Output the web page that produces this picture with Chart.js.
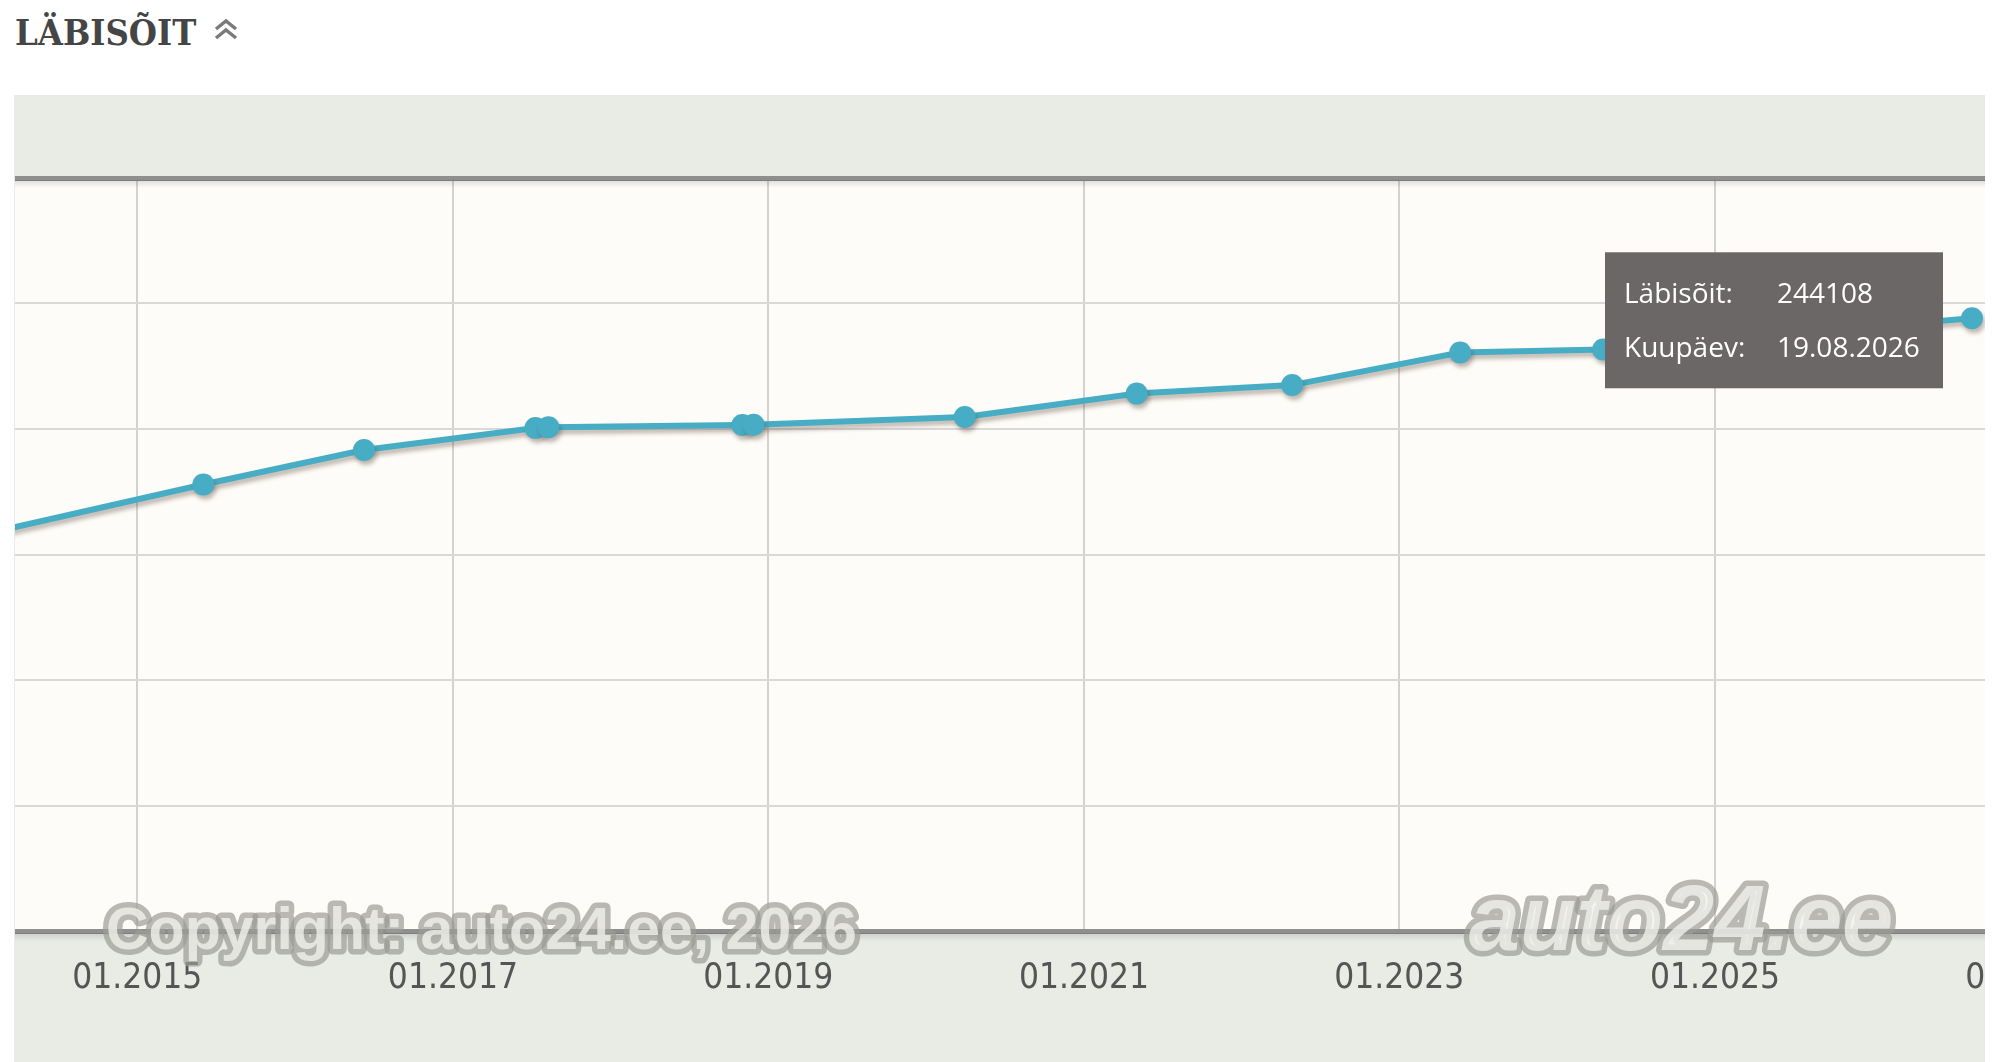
<!DOCTYPE html>
<html>
<head>
<meta charset="utf-8">
<script src="https://cdn.jsdelivr.net/npm/chart.js@4.4.1/dist/chart.umd.min.js"></script>
<style>
  html, body { margin: 0; padding: 0; background: #fff; }
  body { width: 2000px; height: 1062px; position: relative; overflow: hidden; }
  #title { position: absolute; left: 15px; top: 14px; font: bold 36px "DejaVu Serif Condensed", "DejaVu Serif", serif; color: #454545; line-height: 36px; }
  #toggle { position: absolute; left: 212px; top: 17px; }
  #box { position: absolute; left: 14px; top: 95px; width: 1971px; height: 967px; overflow: hidden; }
  #labisoit { display: block; margin-left: -10px; }
</style>
</head>
<body>
<div id="title">LÄBISÕIT</div>
<svg id="toggle" width="28" height="26">
  <polyline points="4,12 14,4 24,12" fill="none" stroke="#7a7a7a" stroke-width="3.5"/>
  <polyline points="4,21 14,13 24,21" fill="none" stroke="#7a7a7a" stroke-width="3.5"/>
</svg>
<div id="box"><canvas id="labisoit" width="2220" height="967"></canvas></div>
<script>
// readings (first one sits left of the visible range)
const readDates = ['2013-06-01', '2015-06-03', '2016-06-09', '2017-07-11', '2017-08-10',
    '2018-11-02', '2018-11-28', '2020-03-31', '2021-05-03', '2022-04-28',
    '2023-05-22', '2024-04-17', '2026-08-19'];
const mileage = [149400, 177900, 191600, 200400, 200700,
    201600, 201700, 204800, 214100, 217500,
    230500, 231700, 244108];
const tickYears = [2015, 2017, 2019, 2021, 2023, 2025, 2027];
const yTicks = [0, 50000, 100000, 150000, 200000, 250000, 300000];
const xMin = Date.UTC(2014, 2, 24);
const xMax = Date.UTC(2028, 1, 28);

const points = readDates.map((d, i) => ({ x: Date.parse(d), y: mileage[i] }));

function pad(n) { return (n < 10 ? '0' : '') + n; }
function fmtDate(t) {
    const d = new Date(t);
    return pad(d.getUTCDate()) + '.' + pad(d.getUTCMonth() + 1) + '.' + d.getUTCFullYear();
}

const backdrop = {
    id: 'backdrop',
    beforeDraw(chart) {
        const { ctx, chartArea: a, width, height } = chart;
        ctx.save();
        ctx.fillStyle = '#e9ebe5';
        ctx.fillRect(0, 0, width, height);
        ctx.fillStyle = '#fdfcf8';
        ctx.fillRect(a.left, a.top, a.right - a.left, a.bottom - a.top);
        ctx.restore();
    },
    beforeDatasetsDraw(chart) {
        const { ctx, chartArea: a } = chart;
        ctx.save();
        [a.top, a.bottom].forEach(y => {
            const g = ctx.createLinearGradient(0, y + 2, 0, y + 10);
            g.addColorStop(0, 'rgba(0,0,0,0.13)');
            g.addColorStop(1, 'rgba(0,0,0,0)');
            ctx.fillStyle = g;
            ctx.fillRect(a.left, y + 2, a.right - a.left, 8);
        });
        ctx.restore();
    }
};

const lineShadow = {
    id: 'lineShadow',
    beforeDatasetDraw(chart) {
        const c = chart.ctx;
        c.save();
        c.shadowColor = 'rgba(80,55,40,0.35)';
        c.shadowOffsetX = 2;
        c.shadowOffsetY = 4;
        c.shadowBlur = 4;
    },
    afterDatasetDraw(chart) {
        chart.ctx.restore();
    }
};

const watermark = {
    id: 'watermark',
    afterDatasetsDraw(chart) {
        const { ctx, chartArea: a } = chart;
        const marks = [
            { text: 'Copyright: auto24.ee, 2026', font: 'bold 59px "Liberation Sans"', x: a.left + 91, y: a.bottom + 2, align: 'left' },
            { text: 'auto24.ee', font: 'italic bold 92px "Liberation Sans"', x: a.left + 1666, y: a.bottom - 6, align: 'center' }
        ];
        ctx.save();
        ctx.lineJoin = 'round';
        ctx.textBaseline = 'middle';
        marks.forEach(m => {
            ctx.font = m.font;
            ctx.textAlign = m.align;
            ctx.strokeStyle = 'rgba(155,155,150,0.7)';
            ctx.lineWidth = 11;
            ctx.strokeText(m.text, m.x, m.y);
            ctx.fillStyle = 'rgba(240,240,236,0.8)';
            ctx.fillText(m.text, m.x, m.y);
        });
        ctx.restore();
    }
};

const readout = {
    id: 'readout',
    afterDraw(chart) {
        const meta = chart.getDatasetMeta(0);
        const i = mileage.length - 1;
        const pt = meta.data[i];
        const { ctx } = chart;
        const w = 338, h = 136;
        const left = pt.x - 29 - w, top = pt.y - 66;
        ctx.save();
        ctx.fillStyle = '#6b6767';
        ctx.fillRect(left, top, w, h);
        ctx.fillStyle = '#ffffff';
        ctx.font = '28px "Open Sans"';
        ctx.textBaseline = 'middle';
        ctx.fillText('Läbisõit:', left + 19, top + 43);
        ctx.fillText(String(mileage[i]), left + 172, top + 43);
        ctx.fillText('Kuupäev:', left + 19, top + 97);
        ctx.fillText(fmtDate(points[i].x), left + 172, top + 97);
        ctx.restore();
    }
};

const grfc = document.getElementById('labisoit');

new Chart(grfc, {
    type: 'line',
    data: {
        datasets: [{
            label: 'Läbisõit',
            data: points,
            borderColor: '#46adc4',
            backgroundColor: '#46adc4',
            borderWidth: 6,
            pointRadius: 11,
            pointBorderWidth: 0,
            pointBackgroundColor: '#46adc4',
            tension: 0
        }]
    },
    options: {
        responsive: false,
        animation: false,
        events: [],
        layout: { padding: { top: 83, left: 0, right: 0, bottom: 0 } },
        plugins: {
            legend: { display: false },
            tooltip: { enabled: false }
        },
        scales: {
            x: {
                type: 'linear',
                min: xMin,
                max: xMax,
                afterBuildTicks: s => { s.ticks = tickYears.map(y => ({ value: Date.UTC(y, 0, 1) })); },
                afterFit: s => { s.height = 131; },
                grid: { color: '#d2d2d2', lineWidth: 2, drawTicks: false },
                border: { display: false },
                ticks: {
                    padding: 27,
                    color: '#555555',
                    font: { family: '"DejaVu Sans Condensed", "DejaVu Sans"', size: 35 },
                    maxRotation: 0,
                    autoSkip: false,
                    callback: v => '01.' + new Date(v).getUTCFullYear()
                }
            },
            y: {
                min: 0,
                max: 300000,
                afterBuildTicks: s => { s.ticks = yTicks.map(v => ({ value: v })); },
                afterFit: s => { s.width = 0; },
                ticks: { display: false },
                border: { display: false },
                grid: {
                    drawTicks: false,
                    color: c => (c.tick.value === 0 || c.tick.value === 300000) ? '#8f8f8f' : '#d9d9d9',
                    lineWidth: c => (c.tick.value === 0 || c.tick.value === 300000) ? 5 : 2
                }
            }
        }
    },
    plugins: [backdrop, lineShadow, watermark, readout]
});
</script>
</body>
</html>
